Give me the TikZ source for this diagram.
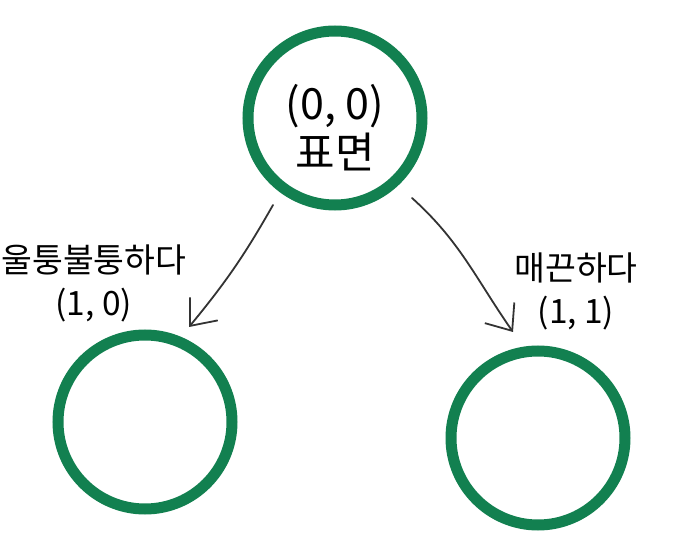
\documentclass[tikz,border=0pt]{standalone}
\usepackage{fontspec}
\setmainfont{Noto Sans CJK KR}
\usetikzlibrary{arrows.meta,bending,calc}
\definecolor{ringgreen}{RGB}{18,128,80}
\tikzset{
  ring/.style={circle, draw=ringgreen, line width=11pt, minimum size=174pt, inner sep=0pt, align=center},
  lbl/.style={align=center, font=\fontsize{33.5}{43}\selectfont, inner sep=0pt},
  sketch/.style={draw=black!80, line width=1.8pt, line cap=round, -{Straight Barb[length=22pt,width=36pt]}}
}
\begin{document}
\begin{tikzpicture}[x=1pt,y=-1pt]
\useasboundingbox (0,0) rectangle (673,556);
\node[ring] (top) at (335,118) {};
\node[align=center, inner sep=0pt, font=\fontsize{43}{49}\selectfont] (toptext) at (335,128) {(0, 0)\\표면};
\node[ring] (left) at (145,422) {};
\node[ring] (right) at (538,438) {};
\node[lbl] (ll) at (94,283) {울퉁불퉁하다\\(1, 0)};
\node[lbl] (rl) at (576,291) {매끈하다\\(1, 1)};
\coordinate (a1) at ($(top)+(-62,87)$);
\coordinate (a2) at ($(left)+(44,-95)$);
\coordinate (b1) at ($(top)+(77,80)$);
\coordinate (b2) at ($(right)+(-25,-106)$);
\draw[sketch] (a1) to[bend left=5] (a2);
\draw[sketch] (b1) to[out=-42, in=125] (b2);
\end{tikzpicture}
\end{document}
